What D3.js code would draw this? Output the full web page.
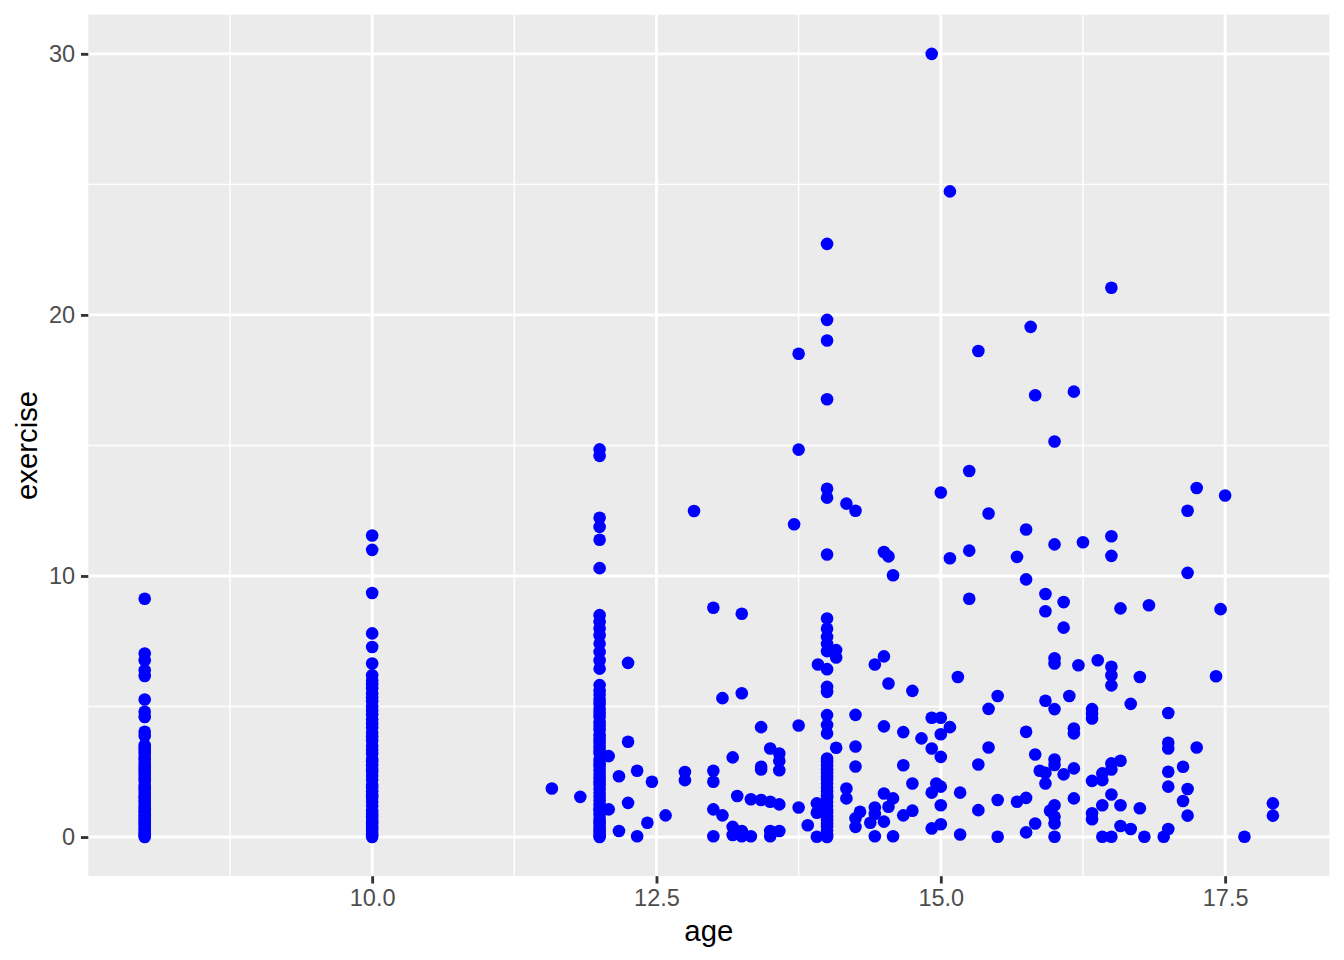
<!DOCTYPE html>
<html lang='en'>

<head>
   <meta charset='UTF-8'>
   <script src='https://cdnjs.cloudflare.com/ajax/libs/d3/7.8.5/d3.min.js'></script>
   <title>exercise by age</title>
   <style>
      body {
         margin: 0;
         background: #fff;
      }

      svg {
         display: block;
         font-family: 'Liberation Sans', Arial, Helvetica, sans-serif;
      }

      .axis path {
         display: none;
      }

      .axis line {
         stroke: #333333;
         stroke-width: 2.85px;
      }

      .axis text {
         fill: #4d4d4d;
         font-size: 23.5px;
      }

      .grid-major {
         stroke: #fff;
         stroke-width: 2.85px;
      }

      .grid-minor {
         stroke: #fff;
         stroke-width: 1.42px;
      }

      .axis-title {
         fill: #000;
         font-size: 29.3px;
      }
   </style>
</head>

<body>
   <svg id='chart'></svg>

   <script>
      'use strict'

      // exercise values for the ages that were recorded as whole years
      const age8Exercise = [9.13, 7.03, 6.77, 6.39, 6.17, 5.27, 4.8, 4.6, 4.03, 3.87, 3.52, 3.4, 3.3, 3.18,
         3.05, 2.95, 2.82, 2.7, 2.6, 2.5, 2.38, 2.25, 2.15, 2.0, 1.9, 1.8, 1.7, 1.58, 1.5, 1.4, 1.3, 1.2,
         1.1, 1.0, 0.92, 0.83, 0.75, 0.67, 0.58, 0.5, 0.42, 0.33, 0.25, 0.17, 0.1, 0.05, 0]
      const age10Exercise = [11.55, 11.0, 9.35, 7.8, 7.28, 6.65, 6.2, 6.0, 5.85, 5.7, 5.5, 5.35, 5.2, 5.0,
         4.85, 4.7, 4.5, 4.35, 4.2, 4.0, 3.85, 3.7, 3.5, 3.35, 3.2, 3.0, 2.9, 2.75, 2.6, 2.5, 2.35, 2.2, 2.0,
         1.9, 1.75, 1.6, 1.5, 1.35, 1.2, 1.0, 0.9, 0.8, 0.7, 0.6, 0.5, 0.4, 0.3, 0.2, 0.1, 0]
      const age12Exercise = [14.85, 14.6, 12.23, 11.88, 11.39, 10.3, 8.5, 8.24, 7.99, 7.73, 7.41, 7.09,
         6.77, 6.45, 5.82, 5.6, 5.45, 5.25, 5.1, 4.9, 4.75, 4.6, 4.4, 4.25, 4.1, 3.9, 3.75, 3.6, 3.45, 3.3,
         3.2, 2.95, 2.8, 2.7, 2.55, 2.4, 2.25, 2.1, 2.0, 1.85, 1.7, 1.55, 1.4, 1.25, 1.1, 1.0, 0.85, 0.7,
         0.6, 0.5, 0.35, 0.25, 0.15, 0.05, 0]
      const age14Exercise = [22.72, 19.81, 19.02, 16.77, 13.34, 13.0, 10.82, 8.37, 7.98, 7.66, 7.4, 7.12,
         6.43, 5.75, 5.56, 4.67, 4.29, 3.97, 3.01, 2.88, 2.75, 2.6, 2.45, 2.3, 2.2, 2.05, 1.9, 1.75, 1.6,
         1.5, 1.35, 1.2, 1.05, 0.95, 0.8, 0.65, 0.5, 0.4, 0.25, 0.1, 0]

      // the rest: [age, exercise]
      const otherPoints = [
         [14.92, 30.0], [15.08, 24.73], [16.5, 21.04], [15.79, 19.54], [15.33, 18.62], [13.75, 18.51],
         [15.83, 16.92], [16.17, 17.06], [16.0, 15.15], [13.75, 14.84], [15.25, 14.02], [15.0, 13.2],
         [17.25, 13.37], [17.5, 13.08], [14.17, 12.77], [14.25, 12.5], [12.83, 12.49], [17.17, 12.5],
         [15.42, 12.39], [13.71, 11.98], [15.75, 11.78], [16.5, 11.52], [16.25, 11.29], [16.0, 11.21],
         [15.25, 10.97], [14.5, 10.92], [16.5, 10.77], [14.54, 10.75], [15.67, 10.73], [15.08, 10.68],
         [17.17, 10.12], [14.58, 10.03], [15.75, 9.87], [15.92, 9.31], [15.25, 9.13], [16.08, 9.0],
         [16.83, 8.88], [13.0, 8.78], [16.58, 8.76], [17.46, 8.73], [15.92, 8.65], [13.25, 8.55],
         [16.08, 8.02], [14.08, 7.16], [14.08, 6.88], [14.5, 6.92], [16.0, 6.85], [16.38, 6.77],
         [12.25, 6.67], [16.0, 6.65], [13.92, 6.61], [14.42, 6.61], [16.21, 6.58], [16.5, 6.52],
         [16.5, 6.2], [17.42, 6.16], [15.15, 6.13], [16.75, 6.13], [14.54, 5.88], [16.5, 5.81],
         [14.75, 5.6], [13.25, 5.51], [15.5, 5.4], [16.13, 5.4], [13.08, 5.32], [15.92, 5.22],
         [16.67, 5.1], [15.42, 4.91], [16.0, 4.9], [16.33, 4.9], [17.0, 4.75], [16.33, 4.73],
         [14.25, 4.68], [14.92, 4.57], [15.0, 4.57], [16.33, 4.54], [13.75, 4.27], [14.5, 4.24],
         [13.42, 4.21], [15.08, 4.21], [16.17, 4.16], [14.67, 4.02], [15.75, 4.03], [16.17, 3.97],
         [15.0, 3.94], [14.83, 3.78], [12.25, 3.65], [17.0, 3.61], [14.25, 3.47], [15.42, 3.43],
         [17.25, 3.43], [13.5, 3.39], [14.92, 3.39], [17.0, 3.39], [14.08, 3.42], [13.58, 3.2],
         [15.83, 3.16], [12.08, 3.1], [15.0, 3.07], [13.17, 3.05], [16.0, 2.97], [13.58, 2.92],
         [16.58, 2.92], [16.5, 2.82], [15.33, 2.78], [16.0, 2.76], [14.67, 2.75], [14.25, 2.7],
         [13.42, 2.69], [17.13, 2.69], [16.17, 2.63], [13.42, 2.59], [16.5, 2.59], [13.58, 2.56],
         [12.33, 2.54], [13.0, 2.54], [15.87, 2.54], [17.0, 2.5], [12.75, 2.49], [15.92, 2.46],
         [16.42, 2.44], [16.08, 2.4], [12.17, 2.33], [12.75, 2.18], [16.42, 2.18], [16.33, 2.15],
         [12.46, 2.12], [13.0, 2.12], [14.75, 2.05], [14.96, 2.05], [15.92, 2.05], [15.0, 1.93],
         [17.0, 1.93], [11.58, 1.86], [14.17, 1.86], [17.17, 1.84], [14.92, 1.7], [15.17, 1.7],
         [14.5, 1.67], [16.5, 1.63], [13.21, 1.57], [11.83, 1.54], [15.75, 1.5], [14.17, 1.48],
         [14.58, 1.48], [16.17, 1.48], [13.33, 1.45], [13.42, 1.42], [15.5, 1.42], [13.5, 1.35],
         [15.67, 1.35], [17.13, 1.38], [12.25, 1.31], [13.91, 1.29], [17.92, 1.29], [13.58, 1.25],
         [15.0, 1.22], [16.0, 1.22], [16.42, 1.22], [16.58, 1.22], [14.54, 1.16], [13.75, 1.13],
         [14.42, 1.13], [16.75, 1.1], [12.08, 1.06], [13.0, 1.06], [15.33, 1.03], [15.96, 1.01],
         [14.75, 1.01], [14.29, 0.97], [13.91, 0.93], [16.33, 0.91], [14.42, 0.88], [12.58, 0.83],
         [13.08, 0.83], [14.67, 0.83], [17.17, 0.82], [17.92, 0.82], [16.0, 0.78], [14.25, 0.72],
         [16.33, 0.68], [14.5, 0.59], [12.42, 0.55], [14.38, 0.55], [15.83, 0.52], [16.0, 0.52],
         [15.0, 0.49], [13.83, 0.45], [16.58, 0.42], [13.17, 0.39], [14.25, 0.39], [14.92, 0.33],
         [16.67, 0.31], [17.0, 0.31], [12.17, 0.23], [13.25, 0.23], [13.5, 0.23], [13.58, 0.23],
         [15.75, 0.18], [15.17, 0.1], [13.17, 0.08], [12.33, 0.03], [13.0, 0.03], [13.25, 0.03],
         [13.33, 0.03], [13.5, 0.03], [13.91, 0.01], [14.42, 0.03], [14.58, 0.03], [15.5, 0.01],
         [16.0, 0.01], [16.42, 0.01], [16.5, 0.01], [16.79, 0.01], [16.96, 0.01], [17.67, 0.01]
      ]

      const xTicks = [10, 12.5, 15, 17.5]
      const xMinorTicks = [8.75, 11.25, 13.75, 16.25]
      const yTicks = [0, 10, 20, 30]
      const yMinorTicks = [5, 15, 25]

      const width = 1344,
         height = 960
      const panel = { left: 88.3, right: 1329.3, top: 14.67, bottom: 876.2 }

      const points = [
         ...age8Exercise.map(e => [8, e]),
         ...age10Exercise.map(e => [10, e]),
         ...age12Exercise.map(e => [12, e]),
         ...age14Exercise.map(e => [14, e]),
         ...otherPoints
      ]

      // ggplot style 5% padding around the data range
      const expand = ([lo, hi]) => [lo - (hi - lo) * 0.05, hi + (hi - lo) * 0.05]

      const x = d3.scaleLinear(expand(d3.extent(points, d => d[0])), [panel.left, panel.right])
      const y = d3.scaleLinear(expand(d3.extent(points, d => d[1])), [panel.bottom, panel.top])

      const svg = d3.select('#chart')
         .attr('width', width)
         .attr('height', height)

      svg.append('rect')
         .attr('x', panel.left)
         .attr('y', panel.top)
         .attr('width', panel.right - panel.left)
         .attr('height', panel.bottom - panel.top)
         .attr('fill', '#ebebeb')

      const grid = svg.append('g')

      grid.selectAll('.vminor')
         .data(xMinorTicks)
         .join('line')
         .attr('class', 'grid-minor')
         .attr('x1', d => x(d)).attr('x2', d => x(d))
         .attr('y1', panel.top).attr('y2', panel.bottom)

      grid.selectAll('.hminor')
         .data(yMinorTicks)
         .join('line')
         .attr('class', 'grid-minor')
         .attr('y1', d => y(d)).attr('y2', d => y(d))
         .attr('x1', panel.left).attr('x2', panel.right)

      grid.selectAll('.vmajor')
         .data(xTicks)
         .join('line')
         .attr('class', 'grid-major')
         .attr('x1', d => x(d)).attr('x2', d => x(d))
         .attr('y1', panel.top).attr('y2', panel.bottom)

      grid.selectAll('.hmajor')
         .data(yTicks)
         .join('line')
         .attr('class', 'grid-major')
         .attr('y1', d => y(d)).attr('y2', d => y(d))
         .attr('x1', panel.left).attr('x2', panel.right)

      svg.append('g')
         .selectAll('circle')
         .data(points)
         .join('circle')
         .attr('cx', d => x(d[0]))
         .attr('cy', d => y(d[1]))
         .attr('r', 6.3)
         .attr('fill', '#0000ff')

      svg.append('g')
         .attr('class', 'axis')
         .attr('transform', `translate(0,${panel.bottom})`)
         .call(d3.axisBottom(x)
            .tickValues(xTicks)
            .tickFormat(d3.format('.1f'))
            .tickSizeInner(7.33)
            .tickSizeOuter(0)
            .tickPadding(5.9))

      svg.append('g')
         .attr('class', 'axis')
         .attr('transform', `translate(${panel.left},0)`)
         .call(d3.axisLeft(y)
            .tickValues(yTicks)
            .tickFormat(d3.format('d'))
            .tickSizeInner(7.33)
            .tickSizeOuter(0)
            .tickPadding(5.9))

      svg.append('text')
         .attr('class', 'axis-title')
         .attr('x', (panel.left + panel.right) / 2)
         .attr('y', 941)
         .attr('text-anchor', 'middle')
         .text('age')

      svg.append('text')
         .attr('class', 'axis-title')
         .attr('transform', `translate(37,${(panel.top + panel.bottom) / 2}) rotate(-90)`)
         .attr('text-anchor', 'middle')
         .text('exercise')
   </script>
</body>

</html>
